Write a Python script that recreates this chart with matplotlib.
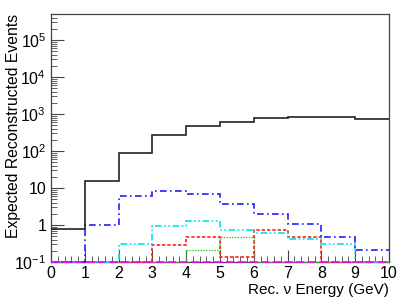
import numpy as np
import matplotlib
matplotlib.use("Agg")
import matplotlib.pyplot as plt
from matplotlib.ticker import FixedLocator, LogLocator, MultipleLocator, FuncFormatter

plt.rcParams['font.family'] = ['Liberation Sans', 'DejaVu Sans']
plt.rcParams['mathtext.fontset'] = 'custom'
plt.rcParams['mathtext.rm'] = 'Liberation Sans'
plt.rcParams['mathtext.it'] = 'Liberation Sans:italic'

# bin edges in reconstructed energy (GeV)
edges = np.arange(0, 11, 1)

# expected events per bin, one array per component
total = [0.78, 15.6, 89, 270, 480, 600, 770, 810, 810, 720]
comp_blue = [0, 0.98, 6.0, 8.3, 6.7, 3.8, 2.0, 1.06, 0.48, 0.21]
comp_cyan = [0, 0, 0.31, 0.96, 1.26, 0.73, 0.60, 0.41, 0.30, 0]
comp_red = [0, 0, 0, 0.28, 0.48, 0.14, 0.71, 0.48, 0, 0]
comp_green = [0, 0, 0, 0, 0.21, 0.46, 0, 0, 0, 0]
comp_magenta = [0, 0, 0, 0, 0, 0, 0, 0, 0, 0]

ymin, ymax = 0.1, 5e5

fig = plt.figure(figsize=(4.09, 3.0), dpi=100)
ax = fig.add_axes([0.1247, 0.1267, 0.8263, 0.8263])

series = [
    (comp_green, '#33cc33', (0, (1, 1)), 1.0),
    (comp_red, '#ff2020', (0, (2, 1.2)), 1.2),
    (comp_cyan, '#00e5e5', (0, (4, 1.5, 1, 1.5, 1, 1.5)), 1.2),
    (comp_blue, '#2020ff', (0, (4, 2, 1, 2)), 1.2),
    (total, '#222222', '-', 1.2),
    (comp_magenta, '#ff00ff', (0, (5, 2)), 1.2),
]
for vals, col, ls, lw in series:
    v = np.clip(np.array(vals, dtype=float), ymin, None)
    ax.stairs(v, edges, baseline=None, color=col, linestyle=ls,
              linewidth=lw, zorder=3, clip_on=False)

ax.set_xlim(0, 10)
ax.set_yscale('log')
ax.set_ylim(ymin, ymax)

ax.xaxis.set_major_locator(MultipleLocator(1))
ax.xaxis.set_minor_locator(MultipleLocator(0.2))
ax.yaxis.set_major_locator(FixedLocator([0.1, 1, 10, 100, 1e3, 1e4, 1e5]))
ax.yaxis.set_minor_locator(LogLocator(base=10, subs=np.arange(2, 10), numticks=20))


def fmt(y, pos):
    e = int(round(np.log10(y)))
    if e == 0:
        return '1'
    if e == 1:
        return '10'
    return r'$10^{%d}$' % e


ax.yaxis.set_major_formatter(FuncFormatter(fmt))

ax.tick_params(which='both', direction='in', top=False, right=False,
               labelsize=11.5, color='#444444')
ax.tick_params(which='major', length=9, width=0.8)
ax.tick_params(which='minor', length=4.5, width=0.6)
ax.tick_params(axis='x', pad=3)
for s in ax.spines.values():
    s.set_color('#444444')
    s.set_linewidth(0.9)

ax.set_ylabel('Expected Reconstructed Events', fontsize=11.3, loc='top')
ax.yaxis.set_label_coords(-0.089, 1.0)
ax.set_xlabel('Rec. ν Energy (GeV)', fontsize=11, loc='right', labelpad=1)

fig.savefig('out.png', dpi=100)
